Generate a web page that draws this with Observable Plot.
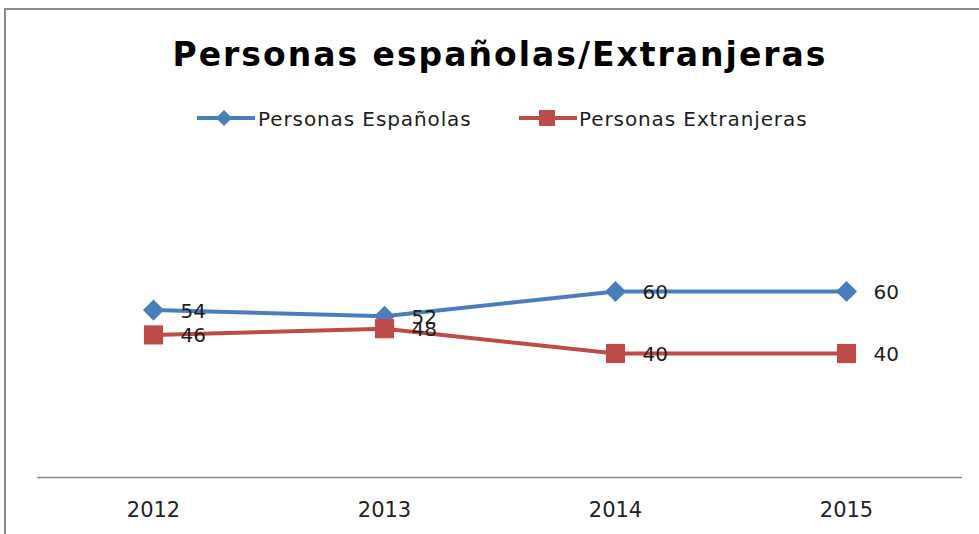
<!DOCTYPE html>
<html>
<head>
<meta charset="utf-8">
<script src="https://cdn.jsdelivr.net/npm/d3@7"></script>
<script src="https://cdn.jsdelivr.net/npm/@observablehq/plot@0.6"></script>
<style>
  html, body { margin: 0; padding: 0; background: #fff; }
  #wrap { position: relative; width: 979px; height: 534px; overflow: hidden; font-family: "DejaVu Sans", sans-serif; color: #1e1e1e; }
  #frame { position: absolute; left: 4px; top: 8px; width: 990px; height: 540px; border-top: 2px solid #8a8a8a; border-left: 2px solid #8a8a8a; }
  #title { position: absolute; left: 21px; width: 958px; top: 38px; text-align: center; font-weight: bold; font-size: 33px; line-height: 33px; letter-spacing: 2px; color: #000; white-space: nowrap; }
  .leg { position: absolute; top: 109px; font-size: 20px; line-height: 20px; letter-spacing: 0.9px; white-space: nowrap; color: #1e1e1e; }
  .legicon { position: absolute; top: 108px; }
  #chart { position: absolute; left: 0; top: 140px; }
</style>
</head>
<body>
<div id="wrap">
  <div id="frame"></div>
  <div id="title"></div>
  <div id="legend"></div>
  <div id="chart"></div>
</div>
<script>
// ---- data ----
const years = ["2012", "2013", "2014", "2015"];
const espanolas = [54, 52, 60, 60];
const extranjeras = [46, 48, 40, 40];
const seriesNames = ["Personas Españolas", "Personas Extranjeras"];
const titleText = "Personas españolas/Extranjeras";

// ---- styles ----
const BLUE = "#4A7EBB";
const RED = "#BE4B48";

document.getElementById("title").textContent = titleText;

// legend
const legend = document.getElementById("legend");
function addLegend(name, color, shape, iconLeft, textLeft) {
  const ns = "http://www.w3.org/2000/svg";
  const svg = document.createElementNS(ns, "svg");
  svg.setAttribute("width", 60);
  svg.setAttribute("height", 22);
  svg.setAttribute("class", "legicon");
  svg.style.left = iconLeft + "px";
  const line = document.createElementNS(ns, "line");
  line.setAttribute("x1", 1); line.setAttribute("x2", 59);
  line.setAttribute("y1", 10); line.setAttribute("y2", 10);
  line.setAttribute("stroke", color); line.setAttribute("stroke-width", 4);
  svg.appendChild(line);
  let m;
  if (shape === "diamond") {
    m = document.createElementNS(ns, "polygon");
    m.setAttribute("points", "28,2 36,10 28,18 20,10");
  } else {
    m = document.createElementNS(ns, "rect");
    m.setAttribute("x", 21); m.setAttribute("y", 2);
    m.setAttribute("width", 16); m.setAttribute("height", 16);
  }
  m.setAttribute("fill", color);
  svg.appendChild(m);
  legend.appendChild(svg);
  const t = document.createElement("div");
  t.className = "leg";
  t.style.left = textLeft + "px";
  t.textContent = name;
  legend.appendChild(t);
}
addLegend(seriesNames[0], BLUE, "diamond", 196, 258);
addLegend(seriesNames[1], RED, "square", 518, 579);

const esp = years.map((year, i) => ({year, value: espanolas[i]}));
const ext = years.map((year, i) => ({year, value: extranjeras[i]}));

const chart = Plot.plot({
  width: 979,
  height: 394,
  marginLeft: 37,
  marginRight: 17,
  marginTop: 120,
  marginBottom: 57,
  style: {fontFamily: "DejaVu Sans", fontSize: "21px", color: "#222", background: "transparent", overflow: "visible"},
  x: {type: "point", domain: years, padding: 0.5, tickSize: 0, tickPadding: 25, label: null},
  y: {domain: [0, 70], axis: null},
  marks: [
    Plot.ruleY([0], {stroke: "#8a8a8a", strokeWidth: 1.5}),
    Plot.line(esp, {x: "year", y: "value", stroke: BLUE, strokeWidth: 4}),
    Plot.dot(esp, {x: "year", y: "value", symbol: "diamond2", r: 9.5, fill: BLUE, stroke: "none"}),
    Plot.line(ext, {x: "year", y: "value", stroke: RED, strokeWidth: 4}),
    Plot.dot(ext, {x: "year", y: "value", symbol: "square", r: 10.8, fill: RED, stroke: "none"}),
    Plot.text(esp, {x: "year", y: "value", text: d => String(d.value), textAnchor: "start", dx: 27, dy: 1, fontSize: 20, fill: "#1e1e1e"}),
    Plot.text(ext, {x: "year", y: "value", text: d => String(d.value), textAnchor: "start", dx: 27, dy: 1, fontSize: 20, fill: "#1e1e1e"})
  ]
});
document.getElementById("chart").appendChild(chart);
</script>
</body>
</html>
